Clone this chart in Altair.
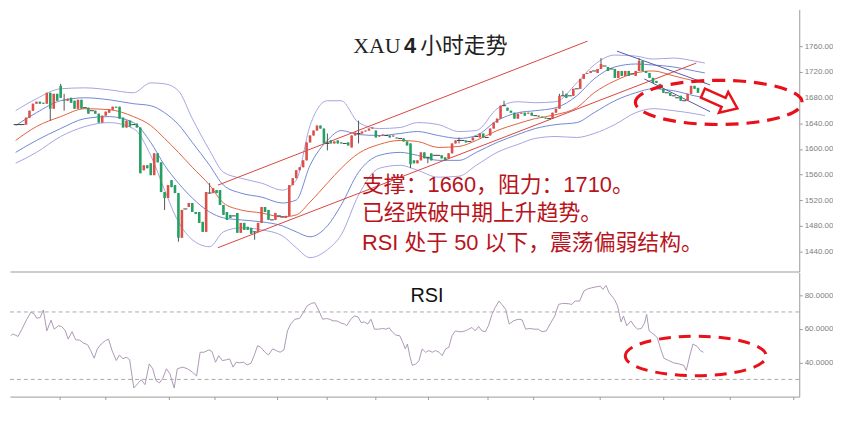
import altair as alt
import pandas as pd

# ---------------- candle data (USD/oz, 4h bars) ----------------
opens = [1637.9, 1637.9, 1637.9, 1637.9, 1648.7, 1659.5, 1670.4, 1673.5, 1671.9, 1670.4,
         1687.4, 1662.6, 1685.8, 1698.2, 1676.5, 1675.0, 1679.6, 1675.0, 1662.6, 1676.5,
         1664.2, 1664.2, 1659.5, 1659.5, 1654.9, 1641.0, 1651.8, 1656.4, 1661.1, 1665.7,
         1665.7, 1648.7, 1633.3, 1644.1, 1637.9, 1639.4, 1633.3, 1566.8, 1574.5, 1577.6,
         1559.1, 1593.1, 1579.1, 1532.8, 1523.5, 1551.3, 1543.6, 1531.2, 1461.7, 1506.5,
         1509.6, 1515.8, 1501.8, 1501.8, 1486.4, 1470.9, 1531.2, 1531.2, 1535.9, 1535.9,
         1512.7, 1501.8, 1497.2, 1495.7, 1500.3, 1469.4, 1484.8, 1478.7, 1477.1, 1470.9,
         1470.9, 1484.8, 1509.6, 1505.0, 1489.5, 1489.5, 1495.7, 1494.1, 1492.6, 1495.7,
         1543.6, 1554.4, 1566.8, 1571.4, 1582.2, 1610.1, 1620.9, 1628.6, 1636.4, 1631.7,
         1608.5, 1613.2, 1608.5, 1613.2, 1610.1, 1608.5, 1610.1, 1602.3, 1620.9, 1624.0,
         1624.0, 1627.1, 1628.6, 1631.7, 1628.6, 1619.3, 1620.9, 1620.9, 1620.9, 1619.3,
         1617.8, 1616.3, 1616.3, 1611.6, 1608.5, 1582.2, 1577.6, 1582.2, 1594.6, 1586.9,
         1593.1, 1590.0, 1590.0, 1590.0, 1586.9, 1585.3, 1593.1, 1608.5, 1613.2, 1613.2,
         1613.2, 1611.6, 1613.2, 1619.3, 1617.8, 1624.0, 1617.8, 1620.9, 1631.7, 1641.0,
         1647.2, 1667.3, 1664.2, 1659.5, 1656.4, 1647.2, 1654.9, 1656.4, 1654.9, 1656.4,
         1651.8, 1651.8, 1650.3, 1648.7, 1647.2, 1647.2, 1656.4, 1662.6, 1682.7, 1685.8,
         1682.7, 1682.7, 1693.6, 1693.6, 1709.0, 1716.7, 1718.3, 1721.4, 1718.3, 1724.5,
         1729.1, 1727.6, 1724.5, 1724.5, 1710.6, 1721.4, 1713.7, 1721.4, 1716.7, 1713.7,
         1721.4, 1736.8, 1721.4, 1718.3, 1710.6, 1705.9, 1701.3, 1693.6, 1687.4, 1687.4,
         1682.7, 1679.6, 1682.7, 1675.0, 1675.0, 1685.8, 1698.2, 1695.1]
closes = [1637.9, 1637.9, 1637.9, 1648.7, 1659.5, 1670.4, 1673.5, 1670.4, 1670.4, 1687.4,
          1662.6, 1685.8, 1675.0, 1679.6, 1675.0, 1678.1, 1671.9, 1662.6, 1676.5, 1662.6,
          1664.2, 1654.9, 1659.5, 1654.9, 1641.0, 1651.8, 1658.0, 1661.1, 1665.7, 1664.2,
          1647.2, 1633.3, 1644.1, 1634.8, 1637.9, 1633.3, 1562.1, 1574.5, 1569.9, 1559.1,
          1593.1, 1579.1, 1532.8, 1523.5, 1543.6, 1540.5, 1531.2, 1461.7, 1505.0, 1506.5,
          1515.8, 1501.8, 1498.7, 1484.8, 1470.9, 1532.8, 1531.2, 1538.9, 1531.2, 1512.7,
          1497.2, 1489.5, 1492.6, 1495.7, 1469.4, 1484.8, 1474.0, 1474.0, 1467.8, 1470.9,
          1484.8, 1509.6, 1501.8, 1489.5, 1489.5, 1500.3, 1495.7, 1494.1, 1495.7, 1543.6,
          1554.4, 1566.8, 1571.4, 1582.2, 1610.1, 1620.9, 1628.6, 1636.4, 1631.7, 1608.5,
          1608.5, 1608.5, 1611.6, 1608.5, 1608.5, 1608.5, 1605.4, 1620.9, 1625.5, 1624.0,
          1627.1, 1628.6, 1631.7, 1633.3, 1617.8, 1620.9, 1622.4, 1620.9, 1617.8, 1620.9,
          1616.3, 1616.3, 1611.6, 1605.4, 1576.1, 1577.6, 1582.2, 1594.6, 1585.3, 1586.9,
          1582.2, 1590.0, 1590.0, 1585.3, 1582.2, 1593.1, 1608.5, 1613.2, 1613.2, 1613.2,
          1610.1, 1611.6, 1617.8, 1619.3, 1624.0, 1617.8, 1617.8, 1631.7, 1641.0, 1647.2,
          1667.3, 1667.3, 1659.5, 1656.4, 1647.2, 1654.9, 1656.4, 1651.8, 1656.4, 1651.8,
          1651.8, 1650.3, 1648.7, 1647.2, 1647.2, 1656.4, 1662.6, 1682.7, 1682.7, 1679.6,
          1682.7, 1693.6, 1693.6, 1709.0, 1716.7, 1718.3, 1721.4, 1721.4, 1724.5, 1732.2,
          1729.1, 1721.4, 1724.5, 1710.6, 1721.4, 1713.7, 1721.4, 1713.7, 1716.7, 1721.4,
          1736.8, 1721.4, 1718.3, 1710.6, 1702.8, 1702.8, 1693.6, 1687.4, 1687.4, 1682.7,
          1682.7, 1679.6, 1675.0, 1675.0, 1685.8, 1698.2, 1693.6, 1687.4]
wick_hi = {13: 1701.3, 14: 1685.8, 56: 1546.7, 90: 1624.0, 99: 1644.1, 128: 1617.8,
           141: 1675.0, 157: 1685.8, 158: 1690.5, 169: 1741.5, 180: 1741.5}
wick_lo = {10: 1644.1, 14: 1659.5, 43: 1505.0, 47: 1455.5, 69: 1458.6, 90: 1597.7,
           99: 1608.5, 114: 1569.9, 119: 1577.6, 128: 1608.5}

# ---------------- Bollinger-style bands (read at sparse bar positions) ----------------
band_pos = [0, 6, 13, 20, 27, 34, 39, 43, 47, 51, 56, 60, 65, 71, 77, 81, 85, 90, 94, 99,
            105, 111, 116, 122, 128, 133, 139, 145, 150, 156, 162, 167, 173, 179, 184, 190, 196, 199]
band_outer_up = [1659.5, 1678.1, 1693.6, 1695.1, 1692.0, 1687.4, 1702.8, 1701.3, 1690.5, 1647.2,
                 1597.7, 1563.7, 1554.4, 1546.7, 1535.9, 1551.3, 1636.4, 1675.0, 1675.0, 1641.0,
                 1631.7, 1633.3, 1641.0, 1637.9, 1627.1, 1628.6, 1662.6, 1673.5, 1671.9, 1673.5,
                 1702.8, 1730.7, 1746.1, 1744.6, 1739.9, 1741.5, 1736.8, 1733.7]
band_inner_up = [1636.4, 1656.4, 1675.0, 1679.6, 1676.5, 1670.4, 1667.3, 1656.4, 1637.9, 1610.1,
                 1574.5, 1543.6, 1531.2, 1525.0, 1515.8, 1520.4, 1574.5, 1613.2, 1628.6, 1622.4,
                 1620.9, 1624.0, 1627.1, 1620.9, 1616.3, 1620.9, 1644.1, 1656.4, 1659.5, 1664.2,
                 1682.7, 1709.0, 1727.6, 1732.2, 1730.7, 1727.6, 1721.4, 1718.3]
band_mid = [1613.2, 1634.8, 1650.3, 1662.6, 1661.1, 1650.3, 1636.4, 1616.3, 1594.6, 1571.4,
            1543.6, 1515.8, 1505.0, 1500.3, 1494.1, 1497.2, 1517.3, 1546.7, 1569.9, 1593.1,
            1607.0, 1613.2, 1611.6, 1602.3, 1603.9, 1613.2, 1628.6, 1639.4, 1647.2, 1653.4,
            1664.2, 1687.4, 1705.9, 1718.3, 1721.4, 1713.7, 1705.9, 1702.8]
band_inner_lo = [1594.6, 1613.2, 1631.7, 1647.2, 1650.3, 1641.0, 1610.1, 1574.5, 1546.7, 1523.5,
                 1501.8, 1492.6, 1489.5, 1486.4, 1480.2, 1470.9, 1463.2, 1480.2, 1512.7, 1563.7,
                 1590.0, 1594.6, 1590.0, 1582.2, 1582.2, 1594.6, 1610.1, 1622.4, 1631.7, 1637.9,
                 1641.0, 1656.4, 1675.0, 1687.4, 1693.6, 1690.5, 1682.7, 1679.6]
band_outer_lo = [1577.6, 1594.6, 1619.3, 1634.8, 1641.0, 1631.7, 1590.0, 1535.9, 1486.4, 1458.6,
                 1447.7, 1470.9, 1477.1, 1474.0, 1464.7, 1446.2, 1430.7, 1443.1, 1466.3, 1528.1,
                 1569.9, 1574.5, 1566.8, 1556.0, 1557.5, 1574.5, 1594.6, 1607.0, 1616.3, 1619.3,
                 1617.8, 1624.0, 1637.9, 1656.4, 1662.6, 1659.5, 1654.9, 1651.8]

# ---------------- trend / channel lines (end points) ----------------
trend_id = ["up_top", "up_top", "up_bot", "up_bot", "ch_top", "ch_top", "ch_bot", "ch_bot"]
trend_pos = [58.4, 165.1, 58.4, 196.5, 173.6, 200.5, 181.5, 200.5]
trend_price = [1543.6, 1767.8, 1446.2, 1733.7, 1752.3, 1699.7, 1709.0, 1658.0]
trend_col = ["#d9463e", "#d9463e", "#d9463e", "#d9463e", "#5a5aa8", "#5a5aa8", "#5a5aa8", "#5a5aa8"]

# ---------------- RSI (position in bars, value) ----------------
rsi_pos = [0, 0.6, 1.3, 2.1, 3.2, 4.6, 5.8, 6.8, 7.4, 8.4, 9.3, 10.3, 11.5, 12.4, 13.6, 14.5, 15.5,
           16.4, 17.5, 18.5, 19.7, 20.7, 21.9, 22.8, 23.8, 24.7, 25.8, 27.0, 27.9, 28.9, 30.1,
           31.0, 32.0, 32.9, 33.9, 35.1, 36.2, 37.2, 38.3, 39.5, 40.5, 41.4, 42.4, 43.3, 44.4,
           45.4, 46.6, 47.5, 49.0, 50.4, 51.8, 53.0, 54.0, 55.1, 56.5, 57.4, 58.4, 59.3, 60.3,
           61.5, 62.4, 63.4, 64.3, 65.3, 66.4, 67.4, 68.5, 69.4, 70.4, 71.3, 72.5, 73.5, 74.7,
           75.7, 76.8, 77.9, 78.9, 79.8, 81.0, 82.3, 83.4, 84.5, 85.7, 86.7, 87.9, 88.9, 90.0,
           90.9, 91.9, 93.0, 94.2, 95.2, 95.8, 97.1, 98.0, 99.0, 99.9, 100.8, 101.8, 102.7,
           103.7, 104.9, 106.0, 107.0, 107.9, 108.9, 109.8, 110.9, 111.7, 112.5, 113.1, 113.8,
           114.5, 115.5, 116.4, 117.3, 118.3, 119.2, 120.2, 121.1, 122.1, 123.0, 124.0, 124.9,
           125.8, 126.8, 127.7, 128.7, 129.6, 130.6, 131.5, 132.4, 133.4, 134.3, 135.3, 136.2,
           137.2, 138.1, 139.2, 140.0, 141.1, 142.1, 143.3, 144.7, 145.8, 146.8, 148.0, 149.2,
           150.4, 151.5, 152.7, 154.0, 155.1, 156.2, 157.4, 158.9, 160.0, 160.9, 162.2, 163.4,
           164.5, 165.6, 166.9, 168.1, 168.8, 169.7, 170.6, 172.1, 173.0, 174.0, 174.7, 175.6,
           176.8, 177.7, 178.7, 179.8, 180.7, 181.3, 182.0, 183.2, 184.3, 185.3, 186.2, 187.6,
           189.0, 190.5, 191.9, 192.6, 193.6, 194.5, 195.7, 196.6, 197.5]
rsi_val = [55.9, 56.9, 56.3, 55.5, 59.8, 65.7, 70.0, 68.6, 66.3, 66.7, 71.2, 58.8, 65.1, 59.8,
           61.8, 61.4, 59.2, 53.9, 58.3, 53.5, 53.3, 51.6, 50.6, 47.1, 42.6, 48.1, 51.0, 53.0,
           53.9, 47.1, 41.2, 44.5, 42.2, 43.2, 41.8, 24.9, 27.5, 29.8, 26.9, 39.2, 36.3, 29.4,
           27.9, 30.4, 36.3, 33.3, 24.9, 36.3, 37.3, 36.3, 34.3, 32.0, 46.1, 46.1, 47.5, 46.5,
           40.2, 44.1, 41.2, 41.6, 42.2, 37.3, 40.2, 39.8, 40.2, 38.6, 39.6, 44.1, 50.0, 49.0,
           46.1, 44.5, 48.1, 47.1, 46.1, 47.5, 58.8, 62.8, 65.7, 66.1, 69.6, 73.6, 75.1, 75.5,
           70.6, 65.7, 66.1, 65.7, 64.7, 64.7, 63.4, 62.8, 61.8, 66.1, 67.6, 67.1, 63.7, 64.1,
           62.8, 65.7, 59.8, 59.8, 60.2, 59.8, 60.6, 57.9, 56.3, 55.9, 52.4, 48.1, 51.0, 43.7,
           38.3, 39.2, 41.0, 48.1, 46.1, 47.1, 46.1, 47.1, 46.1, 44.1, 48.1, 49.0, 55.9, 58.8,
           58.3, 58.3, 58.8, 59.8, 60.8, 58.8, 61.4, 58.8, 58.3, 61.8, 68.6, 72.6, 76.5, 74.5,
           71.6, 62.8, 64.7, 65.7, 65.3, 59.8, 60.2, 59.8, 59.8, 58.3, 58.8, 63.7, 67.6, 74.5,
           75.1, 74.9, 74.5, 76.5, 76.5, 82.4, 83.7, 84.3, 84.9, 85.3, 83.4, 85.7, 81.4, 77.5,
           73.6, 64.1, 67.6, 61.8, 64.7, 61.8, 59.8, 60.2, 63.4, 68.6, 58.8, 56.9, 54.9, 48.1,
           42.6, 41.2, 39.8, 39.2, 38.3, 35.3, 44.1, 51.0, 49.6, 47.1, 46.1]
rsi_levels = [70, 30]
rsi_ticks = [14, 27, 45, 58, 76, 90, 104, 119, 136, 149, 168, 186, 205, 223]

# ---------------- texts ----------------
title_parts = ["XAU", "4", "小时走势"]
title_pos = [104.3, 113.9, 129.4]
note_lines = ["支撑：1660，阻力：1710。", "已经跌破中期上升趋势。", "RSI 处于 50 以下，震荡偏弱结构。"]
note_price = [1543.6, 1500.3, 1453.9]

# ---------------- build tables ----------------
UP, DOWN, FLAT = "#dd4f48", "#23a062", "#444444"
rows = []
for i, (o, c) in enumerate(zip(opens, closes)):
    d = "up" if c > o else ("down" if c < o else "flat")
    rows.append(dict(pos=i, o=o, c=c,
                     hi=wick_hi.get(i, max(o, c)), lo=wick_lo.get(i, min(o, c)),
                     dir=d, col={"up": UP, "down": DOWN, "flat": FLAT}[d]))
candles = pd.DataFrame(rows)

band_specs = [("outer_up", band_outer_up, "#a4a4e2"), ("inner_up", band_inner_up, "#7088d4"),
              ("mid", band_mid, "#e2613f"), ("inner_lo", band_inner_lo, "#7088d4"),
              ("outer_lo", band_outer_lo, "#a4a4e2")]
bands = pd.DataFrame([dict(pos=p, price=v, line=name, col=col)
                      for name, vals, col in band_specs for p, v in zip(band_pos, vals)])
trends = pd.DataFrame(dict(pos=trend_pos, price=trend_price, line=trend_id, col=trend_col))
rsi = pd.DataFrame(dict(pos=rsi_pos, v=rsi_val))
levels = pd.DataFrame(dict(v=rsi_levels))
notes = pd.DataFrame(dict(pos=[100.0] * 3, price=note_price, text=note_lines))
title_df = pd.DataFrame(dict(pos=title_pos, price=[1760.0] * 3, text=title_parts, part=[0, 1, 2]))
ellipse_top = pd.DataFrame(dict(pos=[203.0], price=[1672.4]))
arrow_df = pd.DataFrame(dict(pos=[203.4], price=[1675.0]))
rsi_label = pd.DataFrame(dict(pos=[118.7], v=[79.2], text=["RSI"]))
ellipse_rsi = pd.DataFrame(dict(pos=[195.3], v=[43.9]))

# ---------------- scales / axes ----------------
xs = alt.Scale(domain=[-0.2, 224.8], nice=False, zero=False)
ys = alt.Scale(domain=[1409.1, 1817.2], nice=False, zero=False)
rs = alt.Scale(domain=[19.8, 93.4], nice=False, zero=False)

x_top_axis = alt.Axis(title=None, labels=False, ticks=False, grid=False, domainColor="#9a9a9a")
y_top_axis = alt.Axis(title=None, orient="right", values=[1440, 1480, 1520, 1560, 1600, 1640, 1680, 1720, 1760],
                      format=".2f", grid=False, tickSize=3, domainColor="#9a9a9a", tickColor="#9a9a9a",
                      labelFontSize=8, labelColor="#808080", labelPadding=2)
x_rsi_axis = alt.Axis(title=None, labels=False, values=rsi_ticks, tickSize=3, grid=False,
                      domainColor="#9a9a9a", tickColor="#9a9a9a")
y_rsi_axis = alt.Axis(title=None, orient="right", values=[40, 60, 80], format=".4f", grid=False,
                      tickSize=3, domainColor="#9a9a9a", tickColor="#9a9a9a",
                      labelFontSize=8, labelColor="#808080", labelPadding=2)


def XT(f="pos"):
    return alt.X(f"{f}:Q", scale=xs, axis=x_top_axis)


def YT(f="price"):
    return alt.Y(f"{f}:Q", scale=ys, axis=y_top_axis)


def XR(f="pos"):
    return alt.X(f"{f}:Q", scale=xs, axis=x_rsi_axis)


def YR(f="v"):
    return alt.Y(f"{f}:Q", scale=rs, axis=y_rsi_axis)


ELL_TOP = ("M -1 0 C -1 -0.146 -0.552 -0.265 0 -0.265 C 0.552 -0.265 1 -0.146 1 0 "
           "C 1 0.146 0.552 0.265 0 0.265 C -0.552 0.265 -1 0.146 -1 0 Z")
ELL_RSI = ("M -1 0 C -1 -0.155 -0.552 -0.28 0 -0.28 C 0.552 -0.28 1 -0.155 1 0 "
           "C 1 0.155 0.552 0.28 0 0.28 C -0.552 0.28 -1 0.155 -1 0 Z")
ARROW = "M -1 -0.26 L 0.2 -0.26 L 0.2 -0.6 L 1 0 L 0.2 0.6 L 0.2 0.26 L -1 0.26 Z"
RED = "#e8101a"
CJK_SANS = "Liberation Sans, Noto Sans CJK SC"

band_layer = alt.Chart(bands).mark_line(strokeWidth=1, interpolate="monotone").encode(
    x=XT(), y=YT(), color=alt.Color("col:N", scale=None), detail="line:N")
trend_layer = alt.Chart(trends).mark_line(strokeWidth=1).encode(
    x=XT(), y=YT(), color=alt.Color("col:N", scale=None), detail="line:N")
wick_layer = alt.Chart(candles).mark_rule(color="#555555", strokeWidth=1).encode(
    x=XT(), y=YT("lo"), y2="hi:Q")
body_layer = alt.Chart(candles).mark_bar(width=2.6).encode(
    x=XT(), y=YT("o"), y2="c:Q", color=alt.Color("col:N", scale=None))
doji_layer = alt.Chart(candles).transform_filter(alt.datum.dir == "flat").mark_point(
    shape="M -1 0 L 1 0", size=16, filled=False, strokeWidth=1, color=FLAT, opacity=1).encode(
    x=XT(), y=YT("c"))

title_fonts = ["Liberation Serif", "Liberation Sans", "Noto Sans CJK SC"]
title_weights = ["normal", "bold", "normal"]
title_layers = [
    alt.Chart(title_df).transform_filter(alt.datum.part == k).mark_text(
        font=title_fonts[k], fontWeight=title_weights[k], fontSize=22, color="#222222",
        align="center", baseline="middle").encode(x=XT(), y=YT(), text="text:N")
    for k in range(3)
]
note_layer = alt.Chart(notes).mark_text(
    font=CJK_SANS, fontSize=22, color="#b8141c", align="left", baseline="middle").encode(
    x=XT(), y=YT(), text="text:N")
ell_top_layer = alt.Chart(ellipse_top).mark_point(
    shape=ELL_TOP, size=28224, filled=False, stroke=RED, strokeWidth=3.2,
    strokeDash=[13, 8], opacity=1).encode(x=XT(), y=YT())
arrow_layer = alt.Chart(arrow_df).mark_point(
    shape=ARROW, size=1444, angle=24, filled=True, fill="white", stroke=RED,
    strokeWidth=2.5, opacity=1).encode(x=XT(), y=YT())

top = alt.layer(band_layer, trend_layer, wick_layer, body_layer, doji_layer,
                *title_layers, note_layer, ell_top_layer, arrow_layer).properties(width=795, height=264)

level_layer = alt.Chart(levels).mark_rule(color="#aaaaaa", strokeWidth=1, strokeDash=[4, 3]).encode(
    y=YR())
rsi_layer = alt.Chart(rsi).mark_line(color="#ad98b6", strokeWidth=1).encode(x=XR(), y=YR())
rsi_text = alt.Chart(rsi_label).mark_text(
    font="Liberation Sans", fontSize=20, color="#111111", align="center", baseline="middle").encode(
    x=XR(), y=YR(), text="text:N")
ell_rsi_layer = alt.Chart(ellipse_rsi).mark_point(
    shape=ELL_RSI, size=20164, filled=False, stroke=RED, strokeWidth=3,
    strokeDash=[12, 8], opacity=1).encode(x=XR(), y=YR())

bottom = alt.layer(level_layer, rsi_layer, rsi_text, ell_rsi_layer).properties(width=795, height=125)

chart = alt.vconcat(top, bottom, spacing=1, padding=0).configure_view(stroke=None).configure_axis(
    labelFont="Liberation Sans")

chart.save("out.html", embed_options={"renderer": "svg", "actions": False})
